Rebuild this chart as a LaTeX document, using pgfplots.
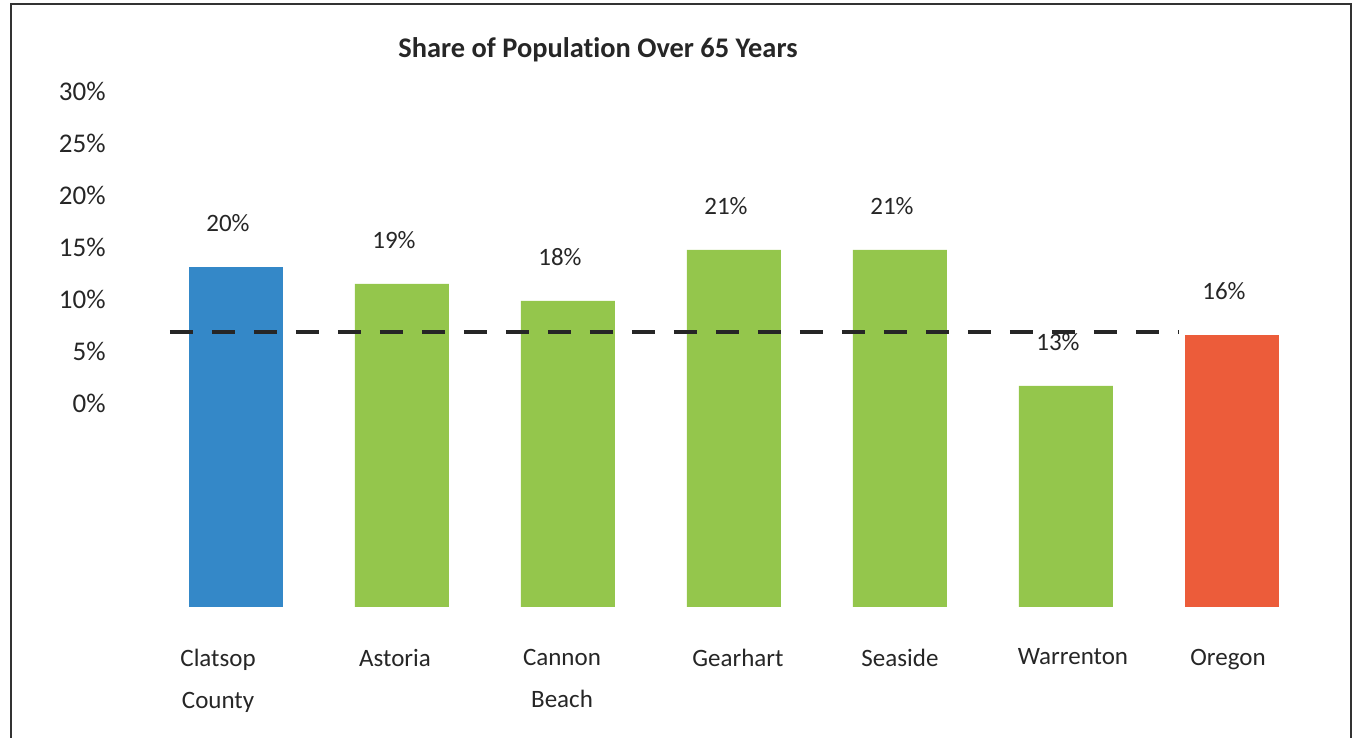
\documentclass[border=0pt]{standalone}
\usepackage{pgfplots}
\pgfplotsset{compat=1.18}
\usepackage{fontspec}
\setmainfont{Carlito}[Ligatures=NoCommon]
\definecolor{cblue}{RGB}{52,136,200}
\definecolor{cgreen}{RGB}{148,198,76}
\definecolor{cred}{RGB}{236,92,58}
\begin{document}
\begin{tikzpicture}[x=1pt,y=1pt]
\useasboundingbox (0,0) rectangle (678.5,369);
\draw[line width=1pt, black!80] (5.5,-20) -- (5.5,367) -- (675.5,367) -- (675.5,-20);
\node[font=\fontsize{14.2}{17}\selectfont\bfseries, text=black!85] at (299,344) {Share of Population Over 65 Years};
\begin{axis}[
  at={(76.5pt,65.5pt)}, anchor=south west,
  scale only axis, width=581pt, height=263.5pt,
  xmin=-0.5, xmax=6.5, ymin=0, ymax=31,
  axis line style={draw=none}, tick style={draw=none},
  ytick=\empty,
  xtick={-0.108,0.958,1.964,3.024,4,5.042,5.976},
  xticklabels={{Clatsop\\County},Astoria,{Cannon\\Beach},Gearhart,Seaside,Warrenton,Oregon},
  xticklabel style={font=\fontsize{12.5}{21}\selectfont, align=center, anchor=north, inner sep=0pt, yshift=-16.5pt, text=black!85},
  /pgf/number format/assume math mode=true,
  ybar, bar width=47pt, bar shift=0pt,
  nodes near coords={\pgfmathprintnumber{\pgfplotspointmeta}\%},
  every node near coord/.append style={font=\fontsize{12.5}{15}\selectfont, anchor=center, yshift=22pt, xshift=-4pt, text=black!85},
  clip=false,
]
\addplot[fill=cblue, draw=none] coordinates {(0,20)};
\addplot[fill=cgreen, draw=none] coordinates {(1,19) (2,18) (3,21) (4,21) (5,13)};
\addplot[fill=cred, draw=none] coordinates {(6,16)};
\addplot[sharp plot, nodes near coords={}, black!85, line width=2pt, dash pattern=on 11.5pt off 9.5pt] coordinates {(-0.398,16.15) (5.675,16.15)};
\end{axis}
\begin{axis}[
  at={(53pt,65.5pt)}, anchor=south west,
  scale only axis, width=10pt, height=263.5pt,
  xmin=0, xmax=1, ymin=-19.615, ymax=31.06,
  axis line style={draw=none}, tick style={draw=none},
  xtick=\empty,
  ytick={0,5,10,15,20,25,30},
  yticklabels={0\%,5\%,10\%,15\%,20\%,25\%,30\%},
  yticklabel style={font=\fontsize{13.5}{16}\selectfont, anchor=east, inner sep=0pt, text=black!85},
]
\addplot[draw=none] coordinates {(0,0)};
\end{axis}
\end{tikzpicture}
\end{document}
